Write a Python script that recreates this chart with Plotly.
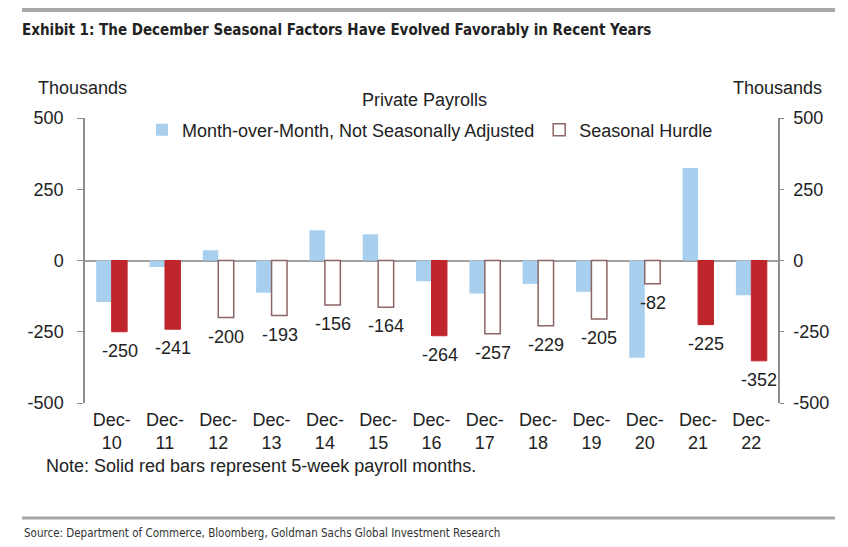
import plotly.graph_objects as go

categories = ["Dec-<br>10", "Dec-<br>11", "Dec-<br>12", "Dec-<br>13", "Dec-<br>14", "Dec-<br>15", "Dec-<br>16",
              "Dec-<br>17", "Dec-<br>18", "Dec-<br>19", "Dec-<br>20", "Dec-<br>21", "Dec-<br>22"]
mom_nsa = [-146, -23, 36, -113, 106, 92, -73, -116, -82, -110, -341, 325, -122]
hurdle = [-250, -241, -200, -193, -156, -164, -264, -257, -229, -205, -82, -225, -352]
five_week = [True, True, False, False, False, False, True, False, False, False, False, True, True]
tick_vals = [-500, -250, 0, 250, 500]
tick_text = ["-500", "-250", "0", "250", "500"]

BLUE = "#A9CFEE"
RED = "#BF262C"
OUTLINE = "#8C6666"
FONT = "Liberation Sans, Arial, sans-serif"
NARROW = "Liberation Sans Narrow, Arial Narrow, DejaVu Sans Condensed, sans-serif"
FS = 18

solid = [h if f else None for h, f in zip(hurdle, five_week)]
hollow = [None if f else h for h, f in zip(hurdle, five_week)]

fig = go.Figure()
fig.add_trace(go.Bar(x=categories, y=mom_nsa, name="Month-over-Month, Not Seasonally Adjusted",
                     marker=dict(color=BLUE, line=dict(width=0)), offsetgroup="a"))
fig.add_trace(go.Bar(x=categories, y=hollow, name="Seasonal Hurdle",
                     marker=dict(color="white", line=dict(color=OUTLINE, width=1.5)), offsetgroup="b"))
fig.add_trace(go.Bar(x=categories, y=solid, name="Seasonal Hurdle (5-week)", showlegend=False,
                     marker=dict(color=RED, line=dict(color=RED, width=1)), offsetgroup="b"))
# right axis carrier (invisible)
fig.add_trace(go.Scatter(x=categories, y=hurdle, yaxis="y2", mode="lines",
                         line=dict(width=0, color="rgba(0,0,0,0)"), showlegend=False, hoverinfo="skip"))

# page offset of the plot inside the browser (body margin)
OFF = 8
PL, PR, PT, PB = 85, 778, 118, 403  # desired page pixel edges of plot area
PW, PH = PR - PL, PB - PT


def px(x):
    return (x - PL) / PW


def py(y):
    return (PB - y) / PH


def note(text, x, y, size=FS, xanchor="center", color="#222", family=FONT):
    return dict(text=text, x=px(x), y=py(y), xref="paper", yref="paper", showarrow=False,
                xanchor=xanchor, yanchor="middle", font=dict(size=size, color=color, family=family))


annotations = []
for c, h in zip(categories, hurdle):
    annotations.append(dict(x=c, y=h, xref="x", yref="y", text=str(h), showarrow=False,
                            xanchor="center", yanchor="middle",
                            xshift=8, yshift=-19, font=dict(size=FS, color="#222", family=FONT)))

annotations += [
    note("Thousands", 82, 88),
    note("Thousands", 777, 88),
    note("Private Payrolls", 424, 100),
    note("Note: Solid red bars represent 5-week payroll months.", 44, 466, xanchor="left"),
    note("Source: Department of Commerce, Bloomberg, Goldman Sachs Global Investment Research",
         22, 533, size=11.5, xanchor="left", color="#333", family=NARROW),
]

shapes = [
    dict(type="line", xref="paper", yref="paper", x0=px(22), x1=px(835),
         y0=py(10), y1=py(10), line=dict(color="#A8A8A8", width=4)),
    dict(type="line", xref="paper", yref="paper", x0=px(22), x1=px(835),
         y0=py(518), y1=py(518), line=dict(color="#A8A8A8", width=3)),
]

fig.update_layout(
    width=848, height=547,
    margin=dict(l=PL - OFF, r=848 - (PR - OFF), t=PT - OFF, b=547 - (PB - OFF)),
    paper_bgcolor="white", plot_bgcolor="white",
    barmode="group", bargap=0.42, bargroupgap=0,
    font=dict(family=FONT, size=FS, color="#222"),
    title=dict(text="<b>Exhibit 1: The December Seasonal Factors Have Evolved Favorably in Recent Years</b>",
               x=(22 - OFF) / 848, xanchor="left", y=1 - (30 - OFF) / 547, yanchor="middle", yref="container",
               font=dict(family=NARROW, size=15, color="#222")),
    legend=dict(orientation="h", x=px(142), xanchor="left", y=py(130), yanchor="middle",
                font=dict(size=FS, color="#222"), bgcolor="rgba(0,0,0,0)", traceorder="normal"),
    xaxis=dict(range=[-0.5, len(categories) - 0.5], showline=False, ticks="", showgrid=False,
               tickfont=dict(size=FS, color="#222"), ticklabelstandoff=4, automargin=False),
    yaxis=dict(range=[-500, 500], tickvals=tick_vals, ticktext=tick_text, showgrid=False, showline=True,
               linecolor="#8C8C8C", linewidth=1.5, ticks="outside", ticklen=6, tickcolor="#8C8C8C",
               zeroline=True, zerolinecolor="#A0A0A0", zerolinewidth=2, automargin=False,
               ticklabelstandoff=10, tickfont=dict(size=FS, color="#222")),
    yaxis2=dict(range=[-500, 500], tickvals=tick_vals, ticktext=tick_text, overlaying="y", side="right",
                showgrid=False, showline=True, linecolor="#8C8C8C", linewidth=1.5, ticks="outside",
                ticklen=4, tickcolor="#8C8C8C", zeroline=False, ticklabelstandoff=6, automargin=False,
                tickfont=dict(size=FS, color="#222")),
    annotations=annotations,
    shapes=shapes,
)

fig.write_html("out.html")
